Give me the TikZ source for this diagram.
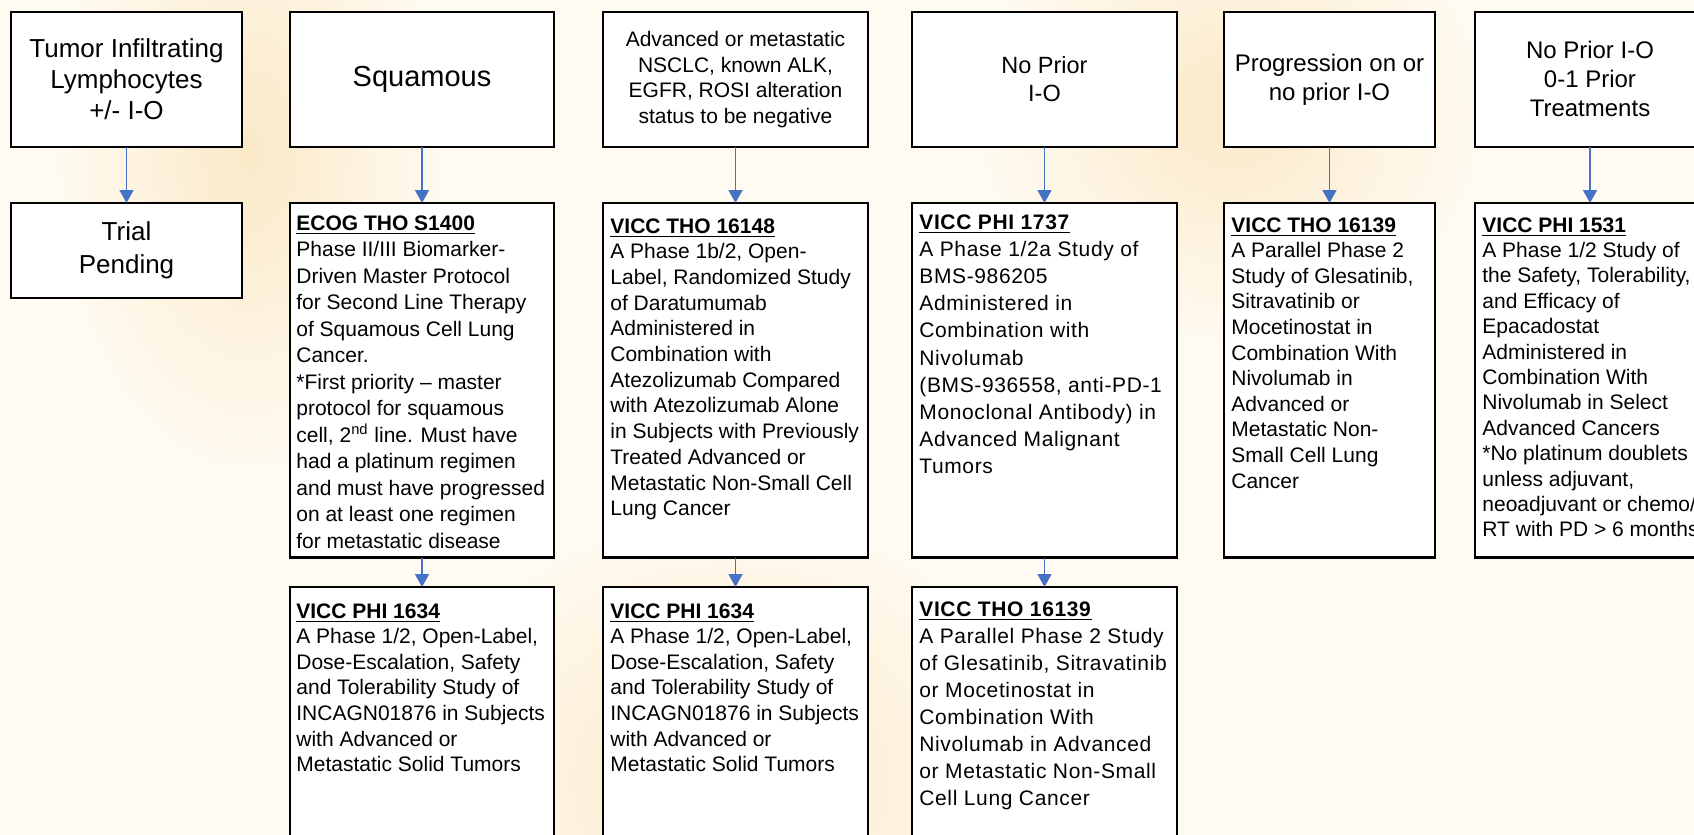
\documentclass[tikz,border=0pt]{standalone}
\usepackage{fontspec}
\setmainfont{Liberation Sans}
\usetikzlibrary{arrows.meta}
\definecolor{bgcream}{RGB}{255,251,242}
\definecolor{peach}{RGB}{251,233,200}
\definecolor{arrowblue}{RGB}{68,114,196}
\newcommand{\ttl}[1]{\underline{\textbf{#1}}}
\begin{document}
\begin{tikzpicture}[x=0.5pt,y=-0.5pt,
  box/.style={draw=black, line width=1.1pt, fill=white, inner sep=0pt, outer sep=0pt, align=center},
  row1/.style={box, minimum height=67.65pt},
  row2/.style={box, minimum height=177.25pt},
  row3/.style={box, minimum height=136.5pt},
  body/.style={anchor=north west, inner sep=0pt, align=left, font=\fontsize{10.5}{13}\selectfont},
  wide/.style={font=\fontsize{10.5}{13.6}\selectfont\addfontfeature{LetterSpace=3}},
  arr/.style={draw=arrowblue, line width=0.8pt, -{Triangle[length=6.5pt,width=7pt]}}
]
\useasboundingbox (0,0) rectangle (1694,835);
\fill[bgcream] (0,0) rectangle (1694,835);
\begin{scope}
\clip (0,0) rectangle (1694,835);
% faded background glow
\shade[inner color=peach, outer color=bgcream] (250,150) ellipse [x radius=200, y radius=330];
\shade[inner color=peach, outer color=bgcream] (730,780) ellipse [x radius=330, y radius=270];
\shade[inner color=peach, outer color=bgcream] (1230,110) ellipse [x radius=260, y radius=240];

% row 1
\node[row1, minimum width=115.5pt, font=\fontsize{13}{15.5}\selectfont] (h1) at (126.5,79.35) {Tumor Infiltrating\\Lymphocytes\\+/- I-O};
\node[row1, minimum width=132pt, font=\fontsize{14.5}{17}\selectfont] (h2) at (422,79.35) {Squamous};
\node[row1, minimum width=132.5pt, font=\fontsize{10.5}{12.75}\selectfont] (h3) at (735.5,79.35) {Advanced or metastatic\\NSCLC, known ALK,\\EGFR, ROSI alteration\\status to be negative};
\node[row1, minimum width=132.5pt, font=\fontsize{11.75}{14}\selectfont] (h4) at (1044.5,79.35) {No Prior\\I-O};
\node[row1, minimum width=105.5pt, font=\fontsize{12}{14.5}\selectfont] (h5) at (1329.5,79.35) {Progression on or\\no prior I-O};
\node[row1, minimum width=115pt, font=\fontsize{12}{14.5}\selectfont] (h6) at (1590,79.35) {No Prior I-O\\0-1 Prior\\Treatments};

% row 2
\node[box, minimum width=115.5pt, minimum height=47.5pt, font=\fontsize{13}{16.5}\selectfont] (p1) at (126.5,250.5) {Trial\\Pending};
\node[row2, minimum width=132pt] (p2) at (422,380.25) {};
\node[row2, minimum width=132.5pt] (p3) at (735.5,380.25) {};
\node[row2, minimum width=132.5pt] (p4) at (1044.5,380.25) {};
\node[row2, minimum width=105.5pt] (p5) at (1329.5,380.25) {};
\node[row2, minimum width=115pt] (p6) at (1590,380.25) {};

% row 3
\node[row3, minimum width=132pt] (q2) at (422,723.5) {};
\node[row3, minimum width=132.5pt] (q3) at (735.5,723.5) {};
\node[row3, minimum width=132.5pt] (q4) at (1044.5,723.5) {};

% texts row 2
\node[body, font=\fontsize{10.5}{13.25}\selectfont] (tp2) at ([xshift=3pt,yshift=-6pt]p2.north west) {\ttl{ECOG THO S1400}\\Phase II/III Biomarker-\\Driven Master Protocol\\for Second Line Therapy\\of Squamous Cell Lung\\Cancer.\\*First priority – master\\protocol for squamous\\cell, 2\textsuperscript{nd} line. Must have\\had a platinum regimen\\and must have progressed\\on at least one regimen\\for metastatic disease};
\node[body, font=\fontsize{10.5}{12.85}\selectfont] (tp3) at ([xshift=3.5pt,yshift=-7.5pt]p3.north west) {\ttl{VICC THO 16148}\\A Phase 1b/2, Open-\\Label, Randomized Study\\of Daratumumab\\Administered in\\Combination with\\Atezolizumab Compared\\with Atezolizumab Alone\\in Subjects with Previously\\Treated Advanced or\\Metastatic Non-Small Cell\\Lung Cancer};
\node[body, wide] (tp4) at ([xshift=3.5pt,yshift=-5.5pt]p4.north west) {\ttl{VICC PHI 1737}\\A Phase 1/2a Study of\\BMS-986205\\Administered in\\Combination with\\Nivolumab\\(BMS-936558, anti-PD-1\\Monoclonal Antibody) in\\Advanced Malignant\\Tumors};
\node[body, font=\fontsize{10.5}{12.8}\selectfont] (tp5) at ([xshift=3.5pt,yshift=-7pt]p5.north west) {\ttl{VICC THO 16139}\\A Parallel Phase 2\\Study of Glesatinib,\\Sitravatinib or\\Mocetinostat in\\Combination With\\Nivolumab in\\Advanced or\\Metastatic Non-\\Small Cell Lung\\Cancer};
\node[body, font=\fontsize{10.5}{12.7}\selectfont] (tp6) at ([xshift=3.5pt,yshift=-7pt]p6.north west) {\ttl{VICC PHI 1531}\\A Phase 1/2 Study of\\the Safety, Tolerability,\\and Efficacy of\\Epacadostat\\Administered in\\Combination With\\Nivolumab in Select\\Advanced Cancers\\*No platinum doublets\\unless adjuvant,\\neoadjuvant or chemo/\\RT with PD > 6 months};

% texts row 3
\node[body, font=\fontsize{10.5}{12.8}\selectfont] (tq2) at ([xshift=3pt,yshift=-8pt]q2.north west) {\ttl{VICC PHI 1634}\\A Phase 1/2, Open-Label,\\Dose-Escalation, Safety\\and Tolerability Study of\\INCAGN01876 in Subjects\\with Advanced or\\Metastatic Solid Tumors};
\node[body, font=\fontsize{10.5}{12.8}\selectfont] (tq3) at ([xshift=3.5pt,yshift=-8pt]q3.north west) {\ttl{VICC PHI 1634}\\A Phase 1/2, Open-Label,\\Dose-Escalation, Safety\\and Tolerability Study of\\INCAGN01876 in Subjects\\with Advanced or\\Metastatic Solid Tumors};
\node[body, wide, font=\fontsize{10.5}{13.5}\selectfont\addfontfeature{LetterSpace=3}] (tq4) at ([xshift=3.5pt,yshift=-7pt]q4.north west) {\ttl{VICC THO 16139}\\A Parallel Phase 2 Study\\of Glesatinib, Sitravatinib\\or Mocetinostat in\\Combination With\\Nivolumab in Advanced\\or Metastatic Non-Small\\Cell Lung Cancer};

% arrows
\draw[arr] (h1.south) -- (p1.north);
\draw[arr] (h2.south) -- (p2.north);
\draw[arr] (h3.south) -- (p3.north);
\draw[arr] (h4.south) -- (p4.north);
\draw[arr] (h5.south) -- (p5.north);
\draw[arr] (h6.south) -- (p6.north);
\draw[arr] (p2.south) -- (q2.north);
\draw[arr] (p3.south) -- (q3.north);
\draw[arr] (p4.south) -- (q4.north);
\end{scope}
\end{tikzpicture}
\end{document}
